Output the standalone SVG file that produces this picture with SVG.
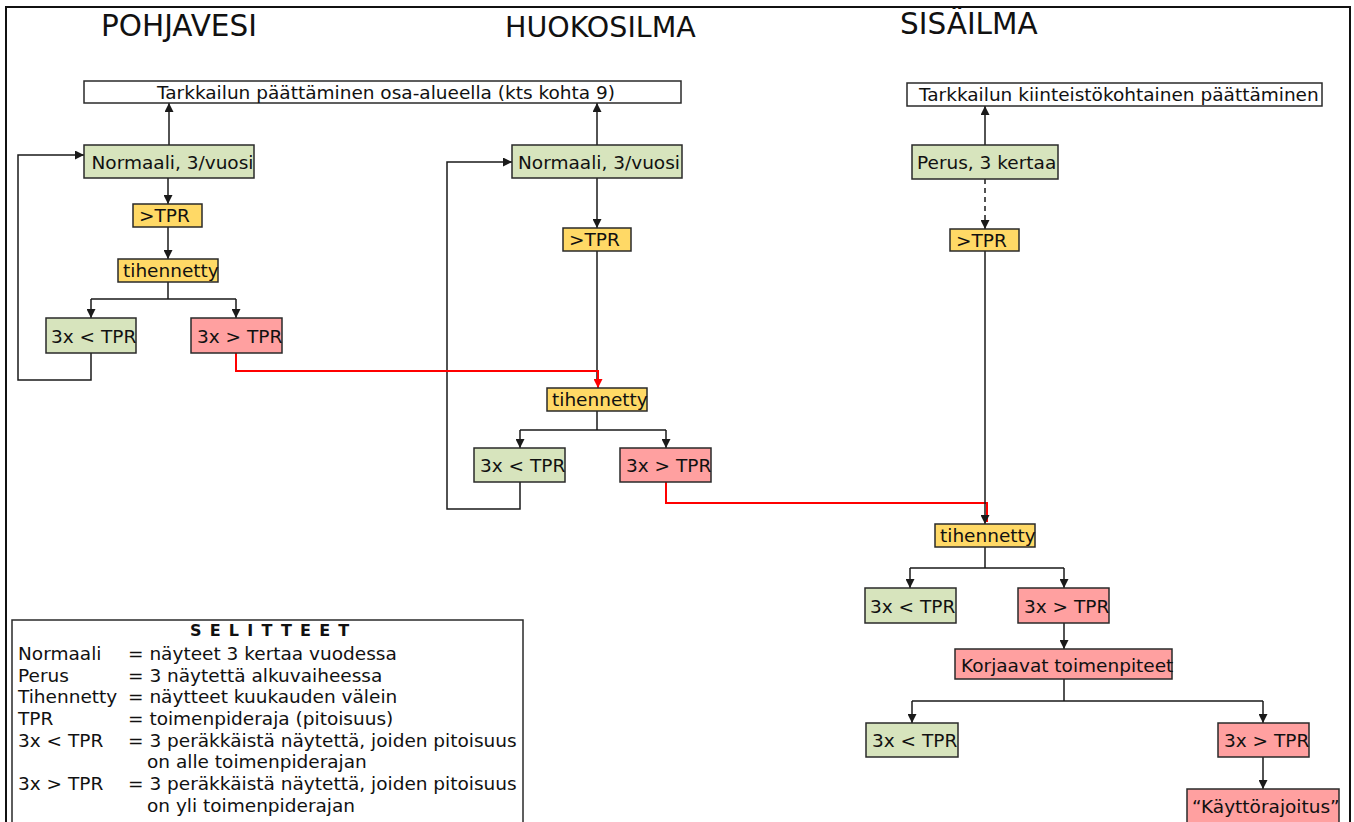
<svg xmlns="http://www.w3.org/2000/svg" width="1354" height="822" viewBox="0 0 1354 822">
<style>
text{font-family:"DejaVu Sans",Verdana,sans-serif;fill:#111;}
.t{font-size:18.5px;}
.h{font-size:29.5px;}
.b{stroke:#2a2a2a;stroke-width:1.5;}
.w{fill:#fff;}
.g{fill:#d7e4bd;}
.y{fill:#ffd966;}
.r{fill:#ffa0a0;}
.c{fill:none;stroke:#1a1a1a;stroke-width:1.5;}
.rc{fill:none;stroke:#ff0000;stroke-width:2;}
</style>
<defs>
<marker id="a" viewBox="0 0 10 10" refX="10" refY="5" markerWidth="9" markerHeight="9" markerUnits="userSpaceOnUse" orient="auto"><path d="M0,0 L10,5 L0,10 z" fill="#1a1a1a"/></marker>
<marker id="ar" viewBox="0 0 10 10" refX="10" refY="5" markerWidth="9" markerHeight="9" markerUnits="userSpaceOnUse" orient="auto"><path d="M0,0 L10,5 L0,10 z" fill="#ff0000"/></marker>
</defs>
<rect x="6" y="7" width="1344" height="830" fill="#fff" stroke="#111" stroke-width="2"/>
<g id="titles">
<text class="h" x="101" y="36">POHJAVESI</text>
<text class="h" x="505" y="37" style="font-size:28.5px">HUOKOSILMA</text>
<text class="h" x="900" y="34">SISÄILMA</text>
</g>
<g id="connectors">
<path class="c" d="M169,145 V103" marker-end="url(#a)"/>
<path class="c" d="M168,178 V204" marker-end="url(#a)"/>
<path class="c" d="M168,227 V259" marker-end="url(#a)"/>
<path class="c" d="M168,282 V299 M91,299 H236"/>
<path class="c" d="M91,299 V318" marker-end="url(#a)"/>
<path class="c" d="M236,299 V318" marker-end="url(#a)"/>
<path class="c" d="M91,353 V380 H18 V155 H84" marker-end="url(#a)"/>
<path class="c" d="M597,145 V103" marker-end="url(#a)"/>
<path class="c" d="M597,178 V228" marker-end="url(#a)"/>
<path class="c" d="M597,251 V384"/>
<path class="c" d="M597,411 V430 M520,430 H666"/>
<path class="c" d="M520,430 V448" marker-end="url(#a)"/>
<path class="c" d="M666,430 V448" marker-end="url(#a)"/>
<path class="c" d="M520,482 V509 H447 V162 H512" marker-end="url(#a)"/>
<path class="rc" d="M236,353 V371 H598 V388" marker-end="url(#ar)"/>
<path class="rc" d="M666,482 V503 H987 V522"/>
<path class="c" d="M985,145 V106" marker-end="url(#a)"/>
<path class="c" d="M985,179 V229" stroke-dasharray="5,4" marker-end="url(#a)"/>
<path class="c" d="M985,251 V524" marker-end="url(#a)"/>
<path class="c" d="M985,547 V568 M910,568 H1064"/>
<path class="c" d="M910,568 V588" marker-end="url(#a)"/>
<path class="c" d="M1064,568 V588" marker-end="url(#a)"/>
<path class="c" d="M1064,623 V649" marker-end="url(#a)"/>
<path class="c" d="M1064,679 V701 M912,701 H1263"/>
<path class="c" d="M912,701 V723" marker-end="url(#a)"/>
<path class="c" d="M1263,701 V723" marker-end="url(#a)"/>
<path class="c" d="M1263,757 V789" marker-end="url(#a)"/>
</g>
<g id="p-top"><rect class="b w" x="84" y="81" width="597" height="22"/><text class="t" x="157" y="99">Tarkkailun päättäminen osa-alueella (kts kohta 9)</text></g>
<g id="p-normaali"><rect class="b g" x="84" y="145" width="170" height="33"/><text class="t" x="91.5" y="169">Normaali, 3/vuosi</text></g>
<g id="p-tpr"><rect class="b y" x="133" y="204" width="69" height="23"/><text class="t" x="139" y="222">&gt;TPR</text></g>
<g id="p-tih"><rect class="b y" x="118" y="259" width="100" height="23"/><text class="t" x="123" y="277">tihennetty</text></g>
<g id="p-lt"><rect class="b g" x="46" y="318" width="90" height="35"/><text class="t" x="51" y="343">3x &lt; TPR</text></g>
<g id="p-gt"><rect class="b r" x="191" y="318" width="91" height="35"/><text class="t" x="197" y="343">3x &gt; TPR</text></g>
<g id="h-normaali"><rect class="b g" x="512" y="145" width="170" height="33"/><text class="t" x="518" y="169">Normaali, 3/vuosi</text></g>
<g id="h-tpr"><rect class="b y" x="563" y="228" width="68" height="23"/><text class="t" x="569" y="246">&gt;TPR</text></g>
<g id="h-tih"><rect class="b y" x="547" y="388" width="100" height="23"/><text class="t" x="552" y="406">tihennetty</text></g>
<g id="h-lt"><rect class="b g" x="474" y="448" width="91" height="34"/><text class="t" x="480" y="472">3x &lt; TPR</text></g>
<g id="h-gt"><rect class="b r" x="620" y="448" width="91" height="34"/><text class="t" x="626" y="472">3x &gt; TPR</text></g>
<g id="s-top"><rect class="b w" x="907" y="83" width="415" height="23"/><text class="t" x="919" y="101">Tarkkailun kiinteistökohtainen päättäminen</text></g>
<g id="s-perus"><rect class="b g" x="912" y="145" width="146" height="34"/><text class="t" x="917" y="169">Perus, 3 kertaa</text></g>
<g id="s-tpr"><rect class="b y" x="950" y="229" width="69" height="22"/><text class="t" x="956" y="247">&gt;TPR</text></g>
<g id="s-tih"><rect class="b y" x="935" y="524" width="100" height="23"/><text class="t" x="940" y="542">tihennetty</text></g>
<g id="s-lt1"><rect class="b g" x="865" y="588" width="91" height="35"/><text class="t" x="870" y="613">3x &lt; TPR</text></g>
<g id="s-gt1"><rect class="b r" x="1018" y="588" width="91" height="35"/><text class="t" x="1024" y="613">3x &gt; TPR</text></g>
<g id="s-korj"><rect class="b r" x="955" y="649" width="217" height="30"/><text class="t" x="961" y="672">Korjaavat toimenpiteet</text></g>
<g id="s-lt2"><rect class="b g" x="866" y="723" width="92" height="34"/><text class="t" x="872" y="747">3x &lt; TPR</text></g>
<g id="s-gt2"><rect class="b r" x="1218" y="723" width="91" height="34"/><text class="t" x="1224" y="747">3x &gt; TPR</text></g>
<g id="s-kaytto"><rect class="b r" x="1187" y="789" width="152" height="45"/><text class="t" x="1192" y="813">“Käyttörajoitus”</text></g>
<g id="legend">
<rect x="12" y="620" width="511" height="215" fill="#fff" stroke="#2a2a2a" stroke-width="1.5"/>
<text x="190" y="636" font-size="16" font-weight="bold" letter-spacing="8.2">SELITTEET</text>
<text class="t" x="18" y="660">Normaali</text><text class="t" x="128" y="660">= näyteet 3 kertaa vuodessa</text>
<text class="t" x="18" y="681.5">Perus</text><text class="t" x="128" y="681.5">= 3 näytettä alkuvaiheessa</text>
<text class="t" x="18" y="703">Tihennetty</text><text class="t" x="128" y="703">= näytteet kuukauden välein</text>
<text class="t" x="18" y="724.5">TPR</text><text class="t" x="128" y="724.5">= toimenpideraja (pitoisuus)</text>
<text class="t" x="18" y="746.5">3x &lt; TPR</text><text class="t" x="128" y="746.5">= 3 peräkkäistä näytettä, joiden pitoisuus</text>
<text class="t" x="147" y="768">on alle toimenpiderajan</text>
<text class="t" x="18" y="790">3x &gt; TPR</text><text class="t" x="128" y="790">= 3 peräkkäistä näytettä, joiden pitoisuus</text>
<text class="t" x="147" y="811.5">on yli toimenpiderajan</text>
</g>
</svg>
